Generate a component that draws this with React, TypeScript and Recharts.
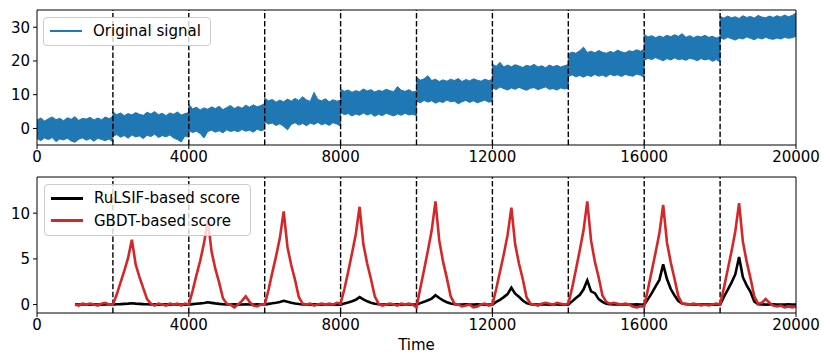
import React from 'react';
import { ComposedChart, Area, Line, XAxis, YAxis, ReferenceLine, Legend } from 'recharts';

// change points (dashed lines) and shared x ticks
const changePoints = [2000, 4000, 6000, 8000, 10000, 12000, 14000, 16000, 18000];
const xTicks = [0, 4000, 8000, 12000, 16000, 20000];
const signalTicks = [0, 10, 20, 30];
const scoreTicks = [0, 5, 10];
const signalDomain = [-4.9, 35.1];
const scoreDomain = [-0.92, 13.96];

// original signal: noise envelope per 2000-step segment, sampled every 100 steps
const segmentLength = 2000;
const envelopeStep = 100;
const signalHigh = [
  [2.5, 3.1, 2.2, 2.9, 3.4, 2.6, 3.0, 2.3, 3.2, 2.7, 3.5, 2.4, 3.0, 2.8, 3.3, 2.5, 3.1, 2.6, 3.4, 2.9, 3.6],
  [4.9, 4.1, 4.6, 3.8, 4.4, 4.0, 4.7, 4.2, 3.9, 4.8, 4.3, 5.0, 4.1, 4.5, 3.8, 4.6, 4.2, 4.9, 4.0, 4.4, 4.7],
  [7.2, 5.8, 6.3, 5.5, 6.1, 5.7, 6.4, 5.9, 6.6, 5.6, 6.2, 6.8, 5.9, 6.5, 6.0, 6.9, 6.3, 7.0, 6.4, 6.8, 7.4],
  [9.0, 8.2, 8.6, 7.8, 8.4, 7.9, 8.7, 8.1, 8.9, 8.3, 9.4, 8.5, 8.0, 10.7, 8.6, 8.2, 8.8, 7.9, 8.5, 8.1, 8.4],
  [11.6, 11.0, 11.4, 10.7, 11.2, 10.9, 11.7, 11.1, 11.5, 10.8, 11.3, 11.0, 11.6, 11.2, 10.9, 12.4, 11.3, 11.0, 11.5, 10.8, 11.1],
  [15.2, 14.3, 14.7, 15.6, 14.2, 14.6, 13.9, 14.4, 14.0, 14.6, 14.2, 14.8, 13.9, 14.5, 14.1, 14.7, 14.3, 14.0, 14.6, 14.2, 14.5],
  [19.0, 18.4, 19.6, 18.2, 18.8, 18.3, 18.9, 18.5, 18.1, 18.7, 18.4, 19.0, 18.2, 18.6, 18.0, 18.8, 18.3, 18.7, 18.2, 18.6, 18.9],
  [22.1, 22.6, 22.3, 23.0, 24.1, 22.5, 22.9, 22.4, 23.1, 22.6, 22.3, 22.8, 22.5, 23.2, 22.7, 22.4, 23.0, 22.8, 23.3, 22.9, 23.4],
  [27.9, 27.1, 27.5, 26.9, 27.4, 27.0, 27.6, 27.2, 27.8, 27.3, 28.1, 27.0, 27.5, 26.9, 27.4, 27.1, 27.6, 27.0, 27.3, 26.8, 27.2],
  [33.2, 32.7, 33.3, 32.8, 33.1, 32.6, 33.4, 32.9, 33.2, 32.7, 33.5, 33.0, 32.8, 33.3, 32.9, 33.4, 33.0, 33.6, 33.1, 33.5, 34.2],
];
const signalLow = [
  [-3.0, -3.6, -2.8, -3.3, -2.7, -3.9, -3.1, -3.4, -2.9, -3.7, -4.1, -3.2, -2.8, -3.5, -3.0, -3.8, -2.9, -3.3, -3.6, -3.1, -4.0],
  [-2.4, -1.8, -2.6, -2.1, -2.9, -1.9, -2.5, -2.2, -3.0, -2.0, -2.4, -1.7, -2.7, -2.1, -2.5, -1.9, -2.8, -3.3, -4.0, -2.2, -2.6],
  [-0.6, -1.2, -0.8, -1.5, -2.8, -0.9, -0.5, -1.1, -0.7, -1.3, -0.4, -0.9, -0.6, -1.0, -0.3, -0.8, -0.5, -1.1, -0.2, -0.7, -0.3],
  [1.9, 1.3, 1.6, 0.9, 1.4, 0.6, -0.4, 1.2, 1.7, 1.0, 1.5, 0.8, 1.6, 1.2, 1.8, 1.1, 1.5, 0.9, 1.7, 1.3, 0.7],
  [4.7, 4.1, 4.4, 3.7, 4.3, 3.9, 4.6, 4.0, 4.4, 3.6, 4.2, 3.8, 4.5, 4.1, 3.7, 4.3, 3.9, 4.5, 4.0, 4.2, 3.8],
  [8.1, 7.6, 8.3, 7.8, 8.2, 7.5, 8.0, 7.7, 8.4, 7.9, 8.1, 7.3, 7.9, 8.3, 7.7, 8.2, 7.6, 8.0, 8.4, 7.8, 8.0],
  [12.1, 11.5, 12.3, 11.8, 11.4, 12.0, 11.6, 12.2, 11.7, 11.3, 11.9, 12.1, 11.5, 11.9, 12.3, 11.6, 11.8, 11.4, 12.0, 11.7, 11.9],
  [15.4, 15.9, 15.3, 15.7, 15.2, 15.8, 15.4, 16.0, 15.5, 15.8, 15.3, 16.1, 15.6, 15.9, 15.4, 16.0, 15.7, 15.5, 16.1, 15.8, 15.2],
  [20.2, 20.8, 20.4, 21.0, 20.5, 20.1, 20.7, 20.3, 20.9, 20.4, 20.6, 20.2, 20.8, 20.5, 20.1, 20.7, 20.3, 20.6, 19.9, 20.4, 19.7],
  [26.9, 26.4, 27.0, 26.6, 26.2, 26.8, 26.5, 27.1, 26.7, 26.3, 26.9, 26.5, 27.0, 26.6, 26.4, 26.8, 26.5, 27.0, 26.7, 26.9, 27.3],
];

// scores, sampled every 100 steps from t=1000 to t=20000
const scoreStart = 1000;
const scoreStep = 100;
const rulsifScore = [
  0.02, 0.0, 0.03, 0.01, 0.0, 0.02, 0.01, 0.0, 0.02, 0.01,
  0.0, 0.03, 0.05, 0.08, 0.11, 0.15, 0.11, 0.08, 0.05, 0.03, 0.01, 0.02, 0.0, 0.01, 0.02, 0.0, 0.01, 0.02, 0.0, 0.01,
  0.0, 0.05, 0.09, 0.13, 0.18, 0.25, 0.19, 0.13, 0.08, 0.04, 0.02, 0.01, 0.02, 0.0, 0.01, 0.03, 0.01, 0.0, 0.02, 0.01,
  0.0, 0.08, 0.14, 0.21, 0.29, 0.42, 0.3, 0.2, 0.12, 0.06, 0.02, 0.01, 0.0, 0.02, 0.01, 0.0, 0.02, 0.01, 0.0, 0.02,
  0.0, 0.13, 0.24, 0.37, 0.52, 0.82, 0.56, 0.36, 0.21, 0.09, 0.03, 0.01, 0.02, 0.0, 0.01, 0.02, 0.0, 0.01, 0.02, 0.0,
  0.0, 0.16, 0.3, 0.47, 0.66, 1.02, 0.72, 0.46, 0.26, 0.11, 0.03, 0.01, 0.0, 0.02, 0.01, 0.0, 0.02, 0.01, 0.0, 0.01,
  0.0, 0.3, 0.52, 0.82, 1.15, 1.85, 1.2, 0.85, 0.45, 0.16, 0.04, 0.02, 0.0, 0.01, 0.02, 0.0, 0.01, 0.02, 0.0, 0.01,
  0.0, 0.35, 0.72, 1.05, 1.65, 2.65, 1.45, 1.25, 0.6, 0.3, 0.1, 0.04, 0.02, 0.01, 0.0, 0.02, 0.01, 0.0, 0.02, 0.0,
  0.0, 0.6, 1.25, 2.0, 2.7, 4.4, 2.8, 1.7, 1.0, 0.4, 0.12, 0.03, 0.01, 0.02, 0.0, 0.01, 0.02, 0.0, 0.01, 0.0,
  0.0, 0.85, 1.6, 2.4, 3.3, 5.2, 3.0, 2.1, 1.4, 0.35, 0.05, 0.02, 0.0, 0.01, 0.02, 0.0, 0.01, 0.0, 0.02, 0.01,
  0.0,
];
const gbdtScore = [
  0.0, -0.1, 0.1, 0.0, 0.1, 0.0, -0.1, 0.1, 0.2, 0.0,
  0.0, 1.1, 2.4, 3.7, 5.1, 7.1, 4.4, 3.0, 1.8, 0.6, 0.1, -0.1, 0.1, 0.0, -0.1, 0.1, 0.0, 0.1, -0.1, 0.1,
  0.0, 1.5, 3.2, 4.8, 6.7, 9.3, 5.8, 3.9, 2.4, 0.7, 0.1, 0.0, -0.3, 0.0, 0.4, 0.9, 0.3, -0.1, -0.2, 0.0,
  0.0, 1.6, 3.5, 5.3, 7.3, 10.2, 6.3, 4.3, 2.7, 0.8, 0.1, 0.0, 0.1, -0.1, 0.0, 0.1, 0.0, 0.1, 0.0, 0.2,
  0.1, 1.7, 3.6, 5.6, 7.7, 10.7, 6.6, 4.5, 2.8, 0.9, 0.1, -0.1, 0.0, 0.1, 0.0, -0.1, 0.1, 0.0, 0.1, 0.0,
  -0.3, 1.8, 3.8, 5.9, 8.1, 11.3, 7.0, 4.7, 2.9, 0.9, 0.1, 0.0, -0.2, -0.1, 0.0, -0.3, -0.2, 0.0, 0.1, -0.1,
  0.0, 1.7, 3.6, 5.5, 7.6, 10.6, 6.6, 4.5, 2.8, 0.8, 0.1, 0.0, -0.1, 0.1, 0.2, 0.1, 0.0, 0.2, 0.1, 0.0,
  0.1, 1.8, 3.8, 5.9, 8.1, 11.3, 7.0, 4.7, 3.0, 1.0, 0.3, 0.1, 0.2, 0.1, 0.0, 0.1, 0.0, -0.2, -0.3, -0.2,
  -0.2, 1.7, 3.7, 5.7, 7.8, 10.9, 6.8, 4.6, 2.8, 0.9, 0.1, 0.1, 0.0, 0.1, 0.0, -0.1, 0.0, -0.1, 0.0, 0.1,
  0.0, 1.8, 3.8, 5.8, 8.0, 11.1, 6.9, 4.7, 2.9, 0.9, 0.1, 0.2, 0.6, 0.2, -0.1, -0.2, -0.1, -0.3, -0.2, -0.3,
  -0.2,
];

const signalData = signalHigh.flatMap((hiRow, s) =>
  hiRow.map((hi, i) => ({ t: s * segmentLength + i * envelopeStep, band: [signalLow[s][i], hi] }))
);
const scoreData = gbdtScore.map((g, i) => ({ t: scoreStart + i * scoreStep, gbdt: g, rulsif: rulsifScore[i] }));

const BLUE = '#1f77b4';
const RED = '#d62728';
const FONT = '"DejaVu Sans", sans-serif';
const tickStyle = { fill: '#000', fontSize: 15, fontFamily: FONT };

type Item = { label: string; color: string; width: number };

function LegendBox({ items, width, height }: { items: Item[]; width: number; height: number }) {
  return (
    <div
      style={{
        width, height, boxSizing: 'border-box', border: '1px solid #cccccc', borderRadius: 4,
        background: 'rgba(255,255,255,0.8)', padding: '2px 0 0 6px', fontFamily: FONT, fontSize: 15, color: '#000',
      }}
    >
      {items.map((it) => (
        <div key={it.label} style={{ display: 'flex', alignItems: 'center', height: 22.5 }}>
          <div style={{ width: 32, height: it.width, background: it.color, marginRight: 11 }} />
          <span style={{ lineHeight: '18px' }}>{it.label}</span>
        </div>
      ))}
    </div>
  );
}

// top and right spines of the matplotlib-style box
function frameLines(domain: number[]) {
  return [
    <ReferenceLine key="top" y={domain[1]} stroke="#000" strokeWidth={1} />,
    <ReferenceLine key="right" x={20000} stroke="#000" strokeWidth={1} />,
  ];
}

export default function App() {
  const axisCommon = { stroke: '#000', tickSize: 4, tick: tickStyle };
  return (
    <div style={{ position: 'absolute', left: 0, top: 0, width: 830, height: 363, background: '#fff', fontFamily: FONT }}>
      <div style={{ position: 'absolute', left: 0, top: 0 }}>
        <ComposedChart width={830} height={170} data={signalData} margin={{ top: 10, right: 34, bottom: 0, left: 7 }}>
          <XAxis dataKey="t" type="number" domain={[0, 20000]} ticks={xTicks} height={25} tickMargin={2} {...axisCommon} />
          <YAxis type="number" domain={signalDomain} ticks={signalTicks} allowDataOverflow width={30} tickMargin={3} {...axisCommon} />
          <Area type="linear" dataKey="band" stroke={BLUE} strokeWidth={1} fill={BLUE} fillOpacity={1} dot={false} activeDot={false} isAnimationActive={false} />
          {changePoints.map((cp) => (
            <ReferenceLine key={cp} x={cp} stroke="#000" strokeWidth={1.4} strokeDasharray="5.5 2.4" />
          ))}
          {frameLines(signalDomain)}
          <Legend
            layout="vertical"
            align="center"
            verticalAlign="middle"
            wrapperStyle={{ left: 43, top: 17, width: 'auto' }}
            content={() => <LegendBox width={168} height={29} items={[{ label: 'Original signal', color: BLUE, width: 2 }]} />}
          />
        </ComposedChart>
      </div>
      <div style={{ position: 'absolute', left: 0, top: 167 }}>
        <ComposedChart width={830} height={196} data={scoreData} margin={{ top: 10, right: 34, bottom: 0, left: 7 }}>
          <XAxis
            dataKey="t" type="number" domain={[0, 20000]} ticks={xTicks} height={50} tickMargin={2} {...axisCommon}
            label={{ value: 'Time', position: 'insideBottom', offset: 13, fill: '#000', fontSize: 15, fontFamily: FONT }}
          />
          <YAxis type="number" domain={scoreDomain} ticks={scoreTicks} allowDataOverflow width={30} tickMargin={3} {...axisCommon} />
          {changePoints.map((cp) => (
            <ReferenceLine key={cp} x={cp} stroke="#000" strokeWidth={1.4} strokeDasharray="5.5 2.4" />
          ))}
          <Line type="linear" dataKey="rulsif" stroke="#000" strokeWidth={2.6} dot={false} activeDot={false} isAnimationActive={false} />
          <Line type="linear" dataKey="gbdt" stroke={RED} strokeWidth={2.6} dot={false} activeDot={false} isAnimationActive={false} />
          {frameLines(scoreDomain)}
          <Legend
            layout="vertical"
            align="center"
            verticalAlign="middle"
            wrapperStyle={{ left: 44, top: 17, width: 'auto' }}
            content={() => (
              <LegendBox
                width={207}
                height={52}
                items={[
                  { label: 'RuLSIF-based score', color: '#000', width: 3 },
                  { label: 'GBDT-based score', color: RED, width: 3 },
                ]}
              />
            )}
          />
        </ComposedChart>
      </div>
    </div>
  );
}
